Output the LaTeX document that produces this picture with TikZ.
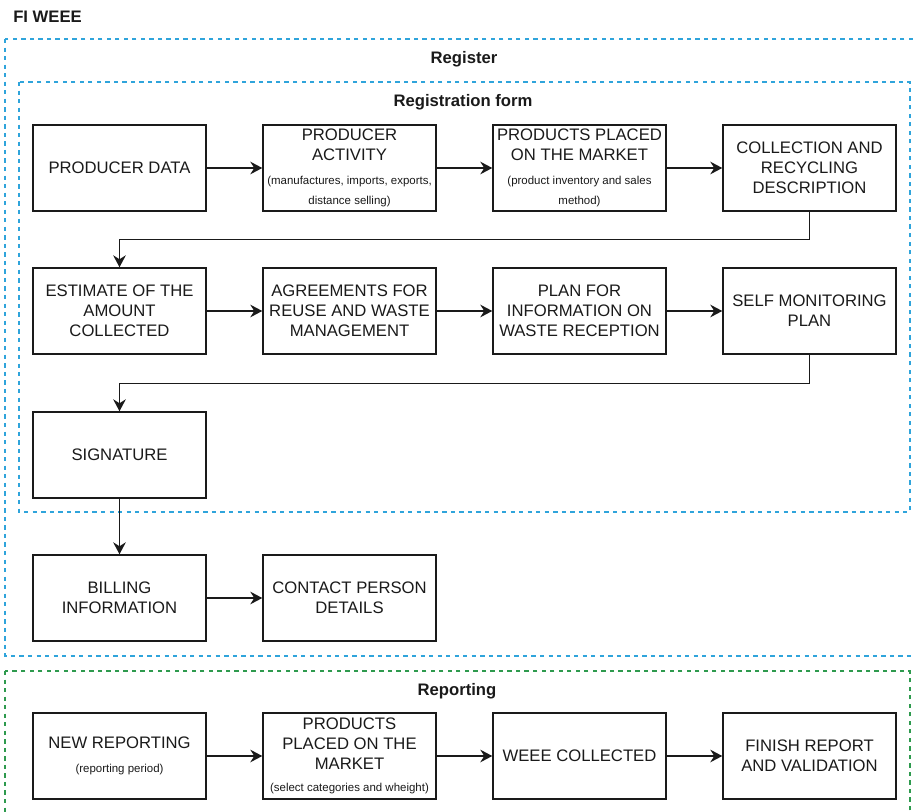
\documentclass[tikz,border=0pt]{standalone}
\usepackage{fontspec}
\setmainfont{Liberation Sans}
\usetikzlibrary{arrows.meta}

\definecolor{regblue}{HTML}{2FA4DB}
\definecolor{repgreen}{HTML}{2E9A4E}
\definecolor{ink}{HTML}{1A1A1A}

% one unit = one pixel of the layout grid
\tikzset{
  x=0.75pt, y=-0.75pt,
  stepbox/.style={draw=ink, line width=1.1pt, minimum width=129.75pt,
    minimum height=64.5pt, inner sep=0pt, align=center, text=ink,
    font=\fontsize{12.5}{15}\selectfont},
  flow/.style={draw=ink, line width=1.1pt,
    -{Stealth[length=9pt,width=9.5pt,inset=3pt]}},
  groupframe/.style={dash pattern=on 3.2pt off 3.2pt, line width=1pt},
  grouptitle/.style={font=\bfseries\fontsize{12.5}{15}\selectfont,
    text=ink, inner sep=0pt},
}
\newcommand{\smalltext}[1]{{\fontsize{8.6}{15}\selectfont #1}}

\begin{document}
\begin{tikzpicture}
\useasboundingbox (0,0) rectangle (913,812);
\clip (0,0) rectangle (913,812);
\fill[white] (0,0) rectangle (913,812);

% group frames
\draw[groupframe, regblue] (5,39) rectangle (930,656);
\draw[groupframe, regblue] (19,82) rectangle (910,512);
\draw[groupframe, repgreen] (5,671) rectangle (910,830);

% titles
\node[grouptitle, anchor=west] (title) at (13,17) {FI WEEE};
\node[grouptitle] (register) at (464,59) {Register};
\node[grouptitle] (regform) at (463,102) {Registration form};
\node[grouptitle] (reporting) at (457,691) {Reporting};

% registration form, first row
\node[stepbox] (pd)  at (119.5,168) {PRODUCER DATA};
\node[stepbox] (pa)  at (349.5,168) {PRODUCER\\ACTIVITY\\[3pt]
  \smalltext{(manufactures, imports, exports,}\\\smalltext{distance selling)}};
\node[stepbox] (ppm) at (579.5,168) {PRODUCTS PLACED\\ON THE MARKET\\[3pt]
  \smalltext{(product inventory and sales}\\\smalltext{method)}};
\node[stepbox] (crd) at (809.5,168) {COLLECTION AND\\RECYCLING\\DESCRIPTION};

% second row
\node[stepbox] (est) at (119.5,311) {ESTIMATE OF THE\\AMOUNT\\COLLECTED};
\node[stepbox] (agr) at (349.5,311) {AGREEMENTS FOR\\REUSE AND WASTE\\MANAGEMENT};
\node[stepbox] (pin) at (579.5,311) {PLAN FOR\\INFORMATION ON\\WASTE RECEPTION};
\node[stepbox] (smp) at (809.5,311) {SELF MONITORING\\PLAN};

% third row
\node[stepbox] (sig) at (119.5,455) {SIGNATURE};

% register, outside the form
\node[stepbox] (bill) at (119.5,598) {BILLING\\INFORMATION};
\node[stepbox] (cpd)  at (349.5,598) {CONTACT PERSON\\DETAILS};

% reporting
\node[stepbox] (nr)  at (119.5,756) {NEW REPORTING\\[3pt]\smalltext{(reporting period)}};
\node[stepbox] (rpm) at (349.5,756) {PRODUCTS\\PLACED ON THE\\MARKET\\[2pt]
  \smalltext{(select categories and wheight)}};
\node[stepbox] (wc)  at (579.5,756) {WEEE COLLECTED};
\node[stepbox] (frv) at (809.5,756) {FINISH REPORT\\AND VALIDATION};

% connectors
\draw[flow] (pd) -- (pa);
\draw[flow] (pa) -- (ppm);
\draw[flow] (ppm) -- (crd);
\draw[flow] (crd.south) -- ++(0,28) -| (est.north);
\draw[flow] (est) -- (agr);
\draw[flow] (agr) -- (pin);
\draw[flow] (pin) -- (smp);
\draw[flow] (smp.south) -- ++(0,29) -| (sig.north);
\draw[flow] (sig) -- (bill);
\draw[flow] (bill) -- (cpd);
\draw[flow] (nr) -- (rpm);
\draw[flow] (rpm) -- (wc);
\draw[flow] (wc) -- (frv);
\end{tikzpicture}
\end{document}
